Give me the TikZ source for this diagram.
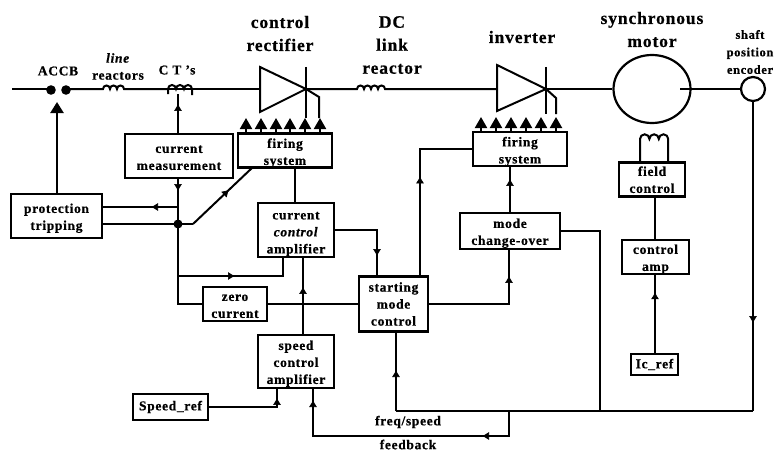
\documentclass[tikz,border=0pt]{standalone}
\usepackage{fontspec}
\setmainfont[LetterSpace=5,BoldFont={Liberation Serif Bold},BoldItalicFont={Liberation Serif Bold Italic},BoldFeatures={FakeBold=0.6},BoldItalicFeatures={FakeBold=0.6}]{Liberation Serif}
\usetikzlibrary{arrows.meta,decorations.markings,shapes.geometric}
\newcommand\tl[2]{\raisebox{-#1}[\height][\depth]{\begin{tabular}{@{}c@{}}#2\end{tabular}}}
\tikzset{
  x=1pt,y=-1pt,
  wire/.style={line width=2pt,line join=miter},
  blk/.style={draw,line width=2.2pt,inner sep=0pt,align=center,font=\fontsize{13.5}{17}\selectfont\bfseries,fill=white},
  title/.style={inner sep=0pt,align=center,font=\fontsize{17.5}{23}\selectfont\bfseries},
  small/.style={inner sep=0pt,align=center,font=\fontsize{13.5}{17}\selectfont\bfseries},
  tiny/.style={inner sep=0pt,align=center,font=\fontsize{12.5}{17.5}\selectfont\bfseries},
  markat/.style={postaction={decorate,decoration={markings,mark=at position #1 with {\arrow[line width=0.6pt]{Latex[length=7pt,width=8pt]}}}}},
  firetip/.style={line width=2pt,-{Triangle[length=11pt,width=12pt]}},
}
\begin{document}
\begin{tikzpicture}
\useasboundingbox (0,0) rectangle (776,452);
% blocks
\node[blk,minimum width=108pt,minimum height=44pt] (meas) at (179,156) {\tl{2pt}{current\\measurement}};
\node[blk,minimum width=94pt,minimum height=33pt] (fire1) at (285,150.5) {\tl{2.5pt}{firing\\system}};
\node[blk,minimum width=91pt,minimum height=44pt] (prot) at (56.5,216) {\tl{2pt}{protection\\tripping}};
\node[blk,minimum width=76pt,minimum height=54pt] (cur) at (296,230) {\tl{3pt}{current\\\textit{control}\\amplifier}};
\node[blk,minimum width=64pt,minimum height=34pt] (zero) at (235,304) {\tl{2pt}{zero\\current}};
\node[blk,minimum width=76pt,minimum height=53pt] (spd) at (296,361.5) {\tl{2pt}{speed\\control\\amplifier}};
\node[blk,minimum width=75pt,minimum height=26pt] (sref) at (170.5,407) {Speed\_ref};
\node[blk,minimum width=69pt,minimum height=55pt] (start) at (393.5,304) {starting\\mode\\control};
\node[blk,minimum width=100pt,minimum height=36pt] (mode) at (510,231) {\tl{2pt}{mode\\change-over}};
\node[blk,minimum width=94pt,minimum height=34pt] (fire2) at (520,149) {\tl{2.5pt}{firing\\system}};
\node[blk,minimum width=66pt,minimum height=33pt] (field) at (652,179.5) {\tl{1.5pt}{field\\control}};
\node[blk,minimum width=67pt,minimum height=34pt] (camp) at (655.5,257) {\tl{2pt}{control\\amp}};
\node[blk,minimum width=47pt,minimum height=21pt] (icref) at (654.5,364.5) {Ic\_ref};
\node[draw,line width=2.2pt,ellipse,minimum width=77pt,minimum height=68pt,inner sep=0pt] (motor) at (652,89) {};
\node[draw,line width=2.2pt,circle,minimum size=24pt,inner sep=0pt] (enc) at (753,89) {};
% labels
\node[title] (tcr) at (280,33.5) {control\\rectifier};
\node[title] (tdc) at (392,45) {DC\\link\\reactor};
\node[title] (tinv) at (522,37) {inverter};
\node[title] (tsm) at (652,29.5) {synchronous\\motor};
\node[tiny] (tenc) at (750,52) {shaft\\position\\encoder};
\node[small] (taccb) at (58,71) {ACCB};
\node[small] (tlr) at (118,66.5) {\textit{line}\\reactors};
\node[small] (tct) at (177,70) {C T 's};
\node[small] (tfs) at (408,422) {freq/speed};
\node[small] (tfb) at (408,444.5) {feedback};
% coordinates on the power line
\coordinate (pl0) at (12,89);
\coordinate (ac1) at (51,89);
\coordinate (ac2) at (66,89);
\coordinate (lr1) at (103,89);
\coordinate (ct1) at (168,89);
\coordinate (rb) at (260,89);
\coordinate (ra) at (306,89);
\coordinate (dc1) at (357,89);
\coordinate (ib) at (497,89);
\coordinate (ia) at (546,89);
% power line
\draw[wire] (pl0) -- (ac1);
\fill (ac1) ++(0,1) circle (4.8pt);
\fill (ac2) ++(0,1) circle (4.8pt);
\draw[wire] (ac2) -- (lr1)
  arc[start angle=180,end angle=0,radius=3.5pt] arc[start angle=180,end angle=0,radius=3.5pt]
  arc[start angle=180,end angle=0,radius=3.5pt] -- (ct1);
\draw[wire] (ct1) -- (rb);
\draw[wire] (ct1) ++(0,5) -- ++(0,-5) arc[start angle=180,end angle=0,radius=4pt] arc[start angle=180,end angle=0,radius=4pt] arc[start angle=180,end angle=0,radius=4pt] -- ++(0,6);
% rectifier
\draw[wire] (260,67) -- (ra) -- (260,112) -- cycle;
\draw[wire] (306,67) -- (306,118);
\draw[wire] (ra) -- (319,97) -- (319,118);
\draw[wire] (ra) -- (dc1)
  arc[start angle=180,end angle=0,radius=3.5pt] arc[start angle=180,end angle=0,radius=3.5pt]
  arc[start angle=180,end angle=0,radius=3.5pt] arc[start angle=180,end angle=0,radius=3.5pt] -- (ib);
% inverter
\draw[wire] (497,65) -- (ia) -- (497,111) -- cycle;
\draw[wire] (546,67) -- (546,114);
\draw[wire] (ia) -- (556,98) -- (556,114);
\draw[wire] (ia) -- (motor.west);
\coordinate (shaft) at (680,89);
\draw[wire] (shaft) -- (enc.west);
% firing arrows
\foreach \x in {246,261,276,290,305,320}{\draw[firetip] (\x,133) -- (\x,118);}
\foreach \x in {481,496,511,526,541,556}{\draw[firetip] (\x,132) -- (\x,117);}
% field winding
\draw[wire] (field.north -| 640,0) -- (640,139)
  arc[start angle=180,end angle=0,radius=4.7pt] arc[start angle=180,end angle=0,radius=4.7pt]
  arc[start angle=180,end angle=0,radius=4.7pt] -- (field.north -| 668.2,0);
% coordinates for the control wiring
\coordinate (xm) at (178,0);
\coordinate (j1) at (178,224);
\coordinate (j2) at (193,224);
\coordinate (j3) at (253,167);
\coordinate (xs) at (303,0);
\coordinate (xc) at (377,0);
\coordinate (xf) at (420,0);
\coordinate (bus) at (396,411);
\coordinate (b2) at (509,411);
\coordinate (b3) at (600,411);
\coordinate (b4) at (753,411);
% control wiring
\draw[wire,line width=2.4pt,-{Triangle[length=11pt,width=13pt]}] (prot.north -| 57,0) -- (57,102);
\draw[wire,markat=29pt] (xm |- meas.north) -- (178,94);
\draw[wire,markat=12pt] (meas.south -| xm) -- (zero.west -| xm) -- (zero.west);
\draw[wire,markat=27pt] (xm |- 0,207) -- (prot.east |- 0,207);
\draw[wire] (prot.east |- j1) -- (j2);
\draw[wire,markat=0.6] (j2) -- (j3);
\fill (j1) circle (4.5pt);
\draw[wire,markat=57pt] (xm |- 0,276) -- (283,276) -- (283,257);
\draw[wire] (fire1.south -| 295,0) -- (cur.north -| 295,0);
\draw[wire,markat=47pt] (xs |- spd.north) -- (xs |- cur.south);
\draw[wire] (zero.east) -- (start.west);
\draw[wire,markat=68pt] (cur.east) -- (xc |- cur.east) -- (xc |- start.north);
\draw[wire,markat=99pt] (xf |- start.north) -- (xf |- fire2.west) -- (fire2.west);
\draw[wire,markat=108pt] (start.east) -- (509,304) -- (mode.south -| 509,0);
\draw[wire,markat=33pt] (mode.north -| 510,0) -- (fire2.south -| 510,0);
\draw[wire,markat=221pt] (enc.south) -- (b4);
\draw[wire,markat=41pt] (bus) -- (start.south -| bus);
\draw[wire] (bus) -- (b4);
\draw[wire] (b3) -- (600,231) -- (mode.east |- 0,231);
\draw[wire,markat=52pt,markat=257pt] (b2) -- (509,436) -- (313,436) -- (spd.south -| 313,0);
\draw[wire,markat=77pt] (sref.east) -- (277,407) -- (spd.south -| 277,0);
\draw[wire] (field.south -| 655,0) -- (camp.north -| 655,0);
\draw[wire,markat=0.78] (icref.north -| 655,0) -- (camp.south -| 655,0);
\end{tikzpicture}
\end{document}
